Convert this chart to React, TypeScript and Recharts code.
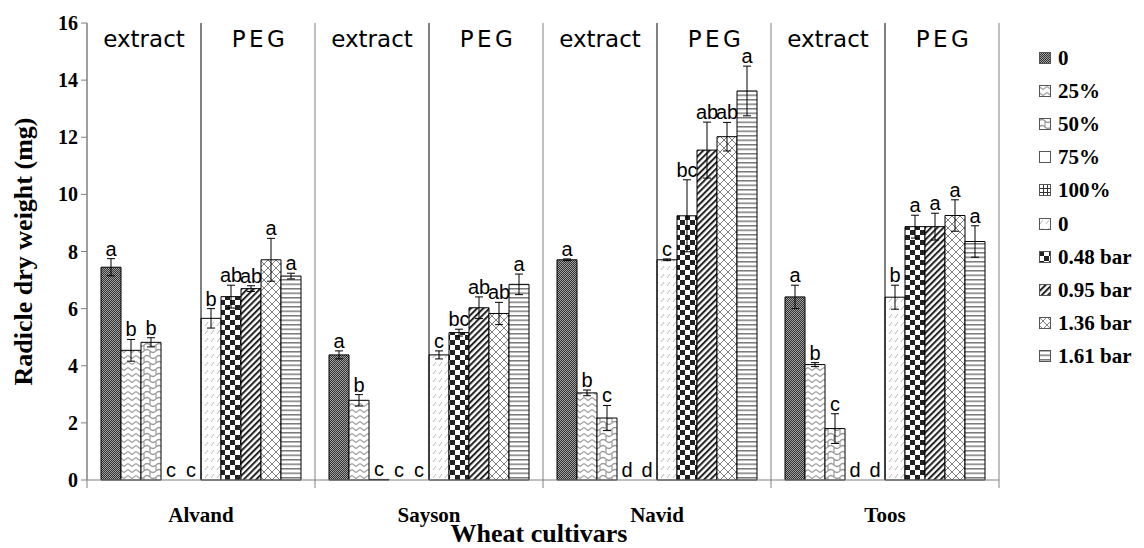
import React from "react";
import { BarChart, Bar, XAxis, YAxis, ErrorBar, LabelList, ReferenceLine, Label, Rectangle } from "recharts";

const cultivars = ["Alvand", "Sayson", "Navid", "Toos"];
const seriesNames = ["0", "25%", "50%", "75%", "100%", "0", "0.48 bar", "0.95 bar", "1.36 bar", "1.61 bar"];
const groupLabels = ["extract", "PEG"];
const yTicks = [0, 2, 4, 6, 8, 10, 12, 14, 16];

// radicle dry weight (mg), one value per cultivar
const ext0 = [7.45, 4.38, 7.71, 6.41];
const ext25 = [4.54, 2.79, 3.05, 4.04];
const ext50 = [4.82, 0.02, 2.17, 1.8];
const ext75 = [0, 0, 0, 0];
const ext100 = [0, 0, 0, 0];
const peg0 = [5.66, 4.38, 7.71, 6.4];
const peg048 = [6.42, 5.16, 9.25, 8.87];
const peg095 = [6.7, 6.03, 11.55, 8.87];
const peg136 = [7.71, 5.83, 12.02, 9.26];
const peg161 = [7.14, 6.85, 13.62, 8.35];

// standard errors
const ext0Err = [0.3, 0.14, 0.03, 0.41];
const ext25Err = [0.38, 0.2, 0.1, 0.07];
const ext50Err = [0.16, 0, 0.44, 0.52];
const ext75Err = [0, 0, 0, 0];
const ext100Err = [0, 0, 0, 0];
const peg0Err = [0.34, 0.14, 0.03, 0.42];
const peg048Err = [0.4, 0.12, 1.26, 0.4];
const peg095Err = [0.1, 0.38, 0.98, 0.47];
const peg136Err = [0.75, 0.39, 0.5, 0.55];
const peg161Err = [0.1, 0.36, 0.87, 0.55];

// mean separation letters
const ext0Let = ["a", "a", "a", "a"];
const ext25Let = ["b", "b", "b", "b"];
const ext50Let = ["b", "c", "c", "c"];
const ext75Let = ["c", "c", "d", "d"];
const ext100Let = ["c", "c", "d", "d"];
const peg0Let = ["b", "c", "c", "b"];
const peg048Let = ["ab", "bc", "bc", "a"];
const peg095Let = ["ab", "ab", "ab", "a"];
const peg136Let = ["a", "ab", "ab", "a"];
const peg161Let = ["a", "a", "a", "a"];

const seriesValues = [ext0, ext25, ext50, ext75, ext100, peg0, peg048, peg095, peg136, peg161];
const seriesErrors = [ext0Err, ext25Err, ext50Err, ext75Err, ext100Err, peg0Err, peg048Err, peg095Err, peg136Err, peg161Err];
const seriesLetters = [ext0Let, ext25Let, ext50Let, ext75Let, ext100Let, peg0Let, peg048Let, peg095Let, peg136Let, peg161Let];

const patternIds = ["p-dots", "p-zig", "p-wave", "p-none", "p-grid", "p-slash", "p-check", "p-stripe", "p-cross", "p-hline"];

const SERIF = "'Liberation Serif', 'Times New Roman', serif";
const SANS = "'Liberation Sans', Arial, sans-serif";
const GREY = "#808080";

const CHART_W = 1144;
const CHART_H = 548;
const Y_W = 87;
const RIGHT = 145;
const QUARTER = (CHART_W - Y_W - RIGHT) / cultivars.length / 4;

const chartData = cultivars.map((name, i) => {
  const row: Record<string, string | number> = { name };
  seriesValues.forEach((vals, s) => {
    row[`v${s}`] = vals[i];
    row[`e${s}`] = seriesErrors[s][i];
    row[`l${s}`] = seriesLetters[s][i];
  });
  return row;
});

function Patterns() {
  return (
    <svg width={0} height={0} style={{ position: "absolute" }}>
      <defs>
        <pattern id="p-dots" width={2} height={2} patternUnits="userSpaceOnUse">
          <rect width={2} height={2} fill="#333" />
          <rect x={0} y={0} width={1} height={1} fill="#a0a0a0" />
          <rect x={1} y={1} width={1} height={1} fill="#a0a0a0" />
        </pattern>
        <pattern id="p-zig" width={8} height={6} patternUnits="userSpaceOnUse">
          <rect width={8} height={6} fill="#fff" />
          <polyline points="0,1.5 4,4.5 8,1.5" fill="none" stroke="#a0a0a0" strokeWidth={1.2} />
        </pattern>
        <pattern id="p-wave" width={12} height={12} patternUnits="userSpaceOnUse">
          <rect width={12} height={12} fill="#fff" />
          <path d="M0 3 Q3 0 6 3 T12 3 M6 3 L6 9 M0 9 Q3 6 6 9 T12 9 M0 9 L0 12 M12 9 L12 12 M0 0 L0 3 M12 0 L12 3" fill="none" stroke="#9a9a9a" strokeWidth={1.2} />
        </pattern>
        <pattern id="p-none" width={4} height={4} patternUnits="userSpaceOnUse">
          <rect width={4} height={4} fill="#fff" />
        </pattern>
        <pattern id="p-grid" width={4} height={4} patternUnits="userSpaceOnUse">
          <rect width={4} height={4} fill="#fff" />
          <path d="M0 0.5 H4 M0.5 0 V4" stroke="#333" strokeWidth={1} />
        </pattern>
        <pattern id="p-slash" width={6} height={8} patternUnits="userSpaceOnUse">
          <rect width={6} height={8} fill="#fff" />
          <path d="M1 6 L4 2" stroke="#b8b8b8" strokeWidth={1} />
        </pattern>
        <pattern id="p-check" width={10} height={10} patternUnits="userSpaceOnUse">
          <rect width={10} height={10} fill="#fff" />
          <rect x={0} y={0} width={5} height={5} fill="#222" />
          <rect x={5} y={5} width={5} height={5} fill="#222" />
        </pattern>
        <pattern id="p-stripe" width={4.4} height={4.4} patternUnits="userSpaceOnUse" patternTransform="rotate(45)">
          <rect width={4.4} height={4.4} fill="#fff" />
          <rect x={0} y={0} width={2} height={4.4} fill="#222" />
        </pattern>
        <pattern id="p-cross" width={8} height={8} patternUnits="userSpaceOnUse">
          <rect width={8} height={8} fill="#fff" />
          <path d="M0 0 L8 8 M8 0 L0 8" stroke="#808080" strokeWidth={1} />
        </pattern>
        <pattern id="p-hline" width={4} height={4.5} patternUnits="userSpaceOnUse">
          <rect width={4} height={4.5} fill="#fff" />
          <rect x={0} y={0} width={4} height={1.5} fill="#7a7a7a" />
        </pattern>
      </defs>
    </svg>
  );
}

function Letter(props: any) {
  const { s } = props;
  const vb = props.viewBox ?? props;
  const { x, y, width, height } = vb;
  const idx = props.index;
  if (x == null || idx == null) return null;
  const v = seriesValues[s][idx];
  const e = seriesErrors[s][idx];
  const pxPerUnit = v > 0.1 ? Math.abs(height) / v : 0;
  const top = Math.min(y, y + height) - e * pxPerUnit - 3;
  return (
    <text x={x + width / 2} y={top} textAnchor="middle" fontFamily={SANS} fontSize={20} fill="#000">
      {props.value}
    </text>
  );
}

// "extract" / "PEG" headings either side of the mid line of each cultivar
function GroupLabels(props: any) {
  const vb = props.viewBox;
  if (!vb) return null;
  return (
    <g fontFamily="'DejaVu Sans', Verdana, sans-serif" fontSize={23} fill="#000">
      <text x={vb.x - QUARTER} y={vb.y + 24} textAnchor="middle">{groupLabels[0]}</text>
      <text x={vb.x + QUARTER + 2} y={vb.y + 24} textAnchor="middle" letterSpacing={3.5}>{groupLabels[1]}</text>
    </g>
  );
}

function CatTick({ x, y, payload }: any) {
  return (
    <text x={x} y={y + 42} textAnchor="middle" fontFamily={SERIF} fontWeight="bold" fontSize={21} fill="#000">
      {payload.value}
    </text>
  );
}

function XTitle(props: any) {
  const vb = props.viewBox ?? { x: 87, y: 480, width: 912, height: 68 };
  return (
    <text x={vb.x + vb.width / 2 - 4} y={vb.y + vb.height - 6} textAnchor="middle" fontFamily={SERIF} fontWeight="bold" fontSize={26} fill="#000">
      Wheat cultivars
    </text>
  );
}

function YTitle(props: any) {
  const vb = props.viewBox ?? { x: 0, y: 23, width: 87, height: 457 };
  const cx = vb.x + 23;
  const cy = vb.y + vb.height / 2;
  return (
    <text x={cx} y={cy} transform={`rotate(-90 ${cx} ${cy})`} textAnchor="middle" dominantBaseline="central" fontFamily={SERIF} fontWeight="bold" fontSize={26} fill="#000">
      Radicle dry weight (mg)
    </text>
  );
}

function PatternLegend() {
  return (
    <div style={{ position: "absolute", left: 1039, top: 42, fontFamily: SERIF, fontWeight: "bold", fontSize: 21, color: "#000" }}>
      {seriesNames.map((n, s) => (
        <div key={s} style={{ height: 33.1, display: "flex", alignItems: "center", whiteSpace: "nowrap" }}>
          <svg width={13} height={13} style={{ marginRight: 6 }}>
            <rect x={0.5} y={0.5} width={11} height={11} fill={`url(#${patternIds[s]})`} stroke="#555" strokeWidth={1} />
          </svg>
          <span>{n}</span>
        </div>
      ))}
    </div>
  );
}

export default function App() {
  const last = cultivars[cultivars.length - 1];
  return (
    <div style={{ position: "absolute", left: 0, top: 0, width: CHART_W, height: CHART_H, background: "#fff" }}>
      <Patterns />
      <BarChart
        width={CHART_W}
        height={CHART_H}
        data={chartData}
        margin={{ top: 23, right: RIGHT, left: 0, bottom: 0 }}
        barCategoryGap={14}
        barGap={0}
      >
        <XAxis
          dataKey="name"
          height={68}
          interval={0}
          axisLine={{ stroke: GREY }}
          tickLine={false}
          tickSize={0}
          tickMargin={0}
          tick={<CatTick />}
        >
          <Label content={<XTitle />} />
        </XAxis>
        <YAxis
          domain={[0, 16]}
          ticks={yTicks}
          interval={0}
          width={Y_W}
          axisLine={{ stroke: GREY }}
          tickLine={{ stroke: GREY }}
          tickSize={6}
          tickMargin={3}
          tick={{ fontFamily: SERIF, fontWeight: "bold", fontSize: 20, fill: "#000" }}
        >
          <Label content={<YTitle />} />
        </YAxis>
        {cultivars.map((c) => (
          <ReferenceLine
            key={`b${c}`}
            segment={[{ x: c, y: -0.28 }, { x: c, y: 16 }]}
            position="start"
            stroke={GREY}
            strokeWidth={1}
            ifOverflow="visible"
          />
        ))}
        <ReferenceLine
          segment={[{ x: last, y: -0.28 }, { x: last, y: 16 }]}
          position="end"
          stroke={GREY}
          strokeWidth={1}
          ifOverflow="visible"
        />
        {cultivars.map((c) => (
          <ReferenceLine
            key={`m${c}`}
            segment={[{ x: c, y: 0 }, { x: c, y: 16 }]}
            position="middle"
            stroke="#000"
            strokeWidth={1}
            ifOverflow="visible"
            label={<GroupLabels />}
          />
        ))}
        {seriesNames.map((n, s) => (
          <Bar
            key={`s${s}`}
            dataKey={`v${s}`}
            name={n}
            fill={`url(#${patternIds[s]})`}
            stroke="#000"
            strokeWidth={1}
            minPointSize={0.01}
            shape={(p: any) => (p.payload && p.payload[`v${s}`] > 0 ? <Rectangle {...p} /> : <g />)}
            isAnimationActive={false}
          >
            <ErrorBar dataKey={`e${s}`} width={4} stroke="#000" strokeWidth={1} direction="y" />
            <LabelList dataKey={`l${s}`} content={(p: any) => <Letter {...p} s={s} />} />
          </Bar>
        ))}
      </BarChart>
      <PatternLegend />
    </div>
  );
}
